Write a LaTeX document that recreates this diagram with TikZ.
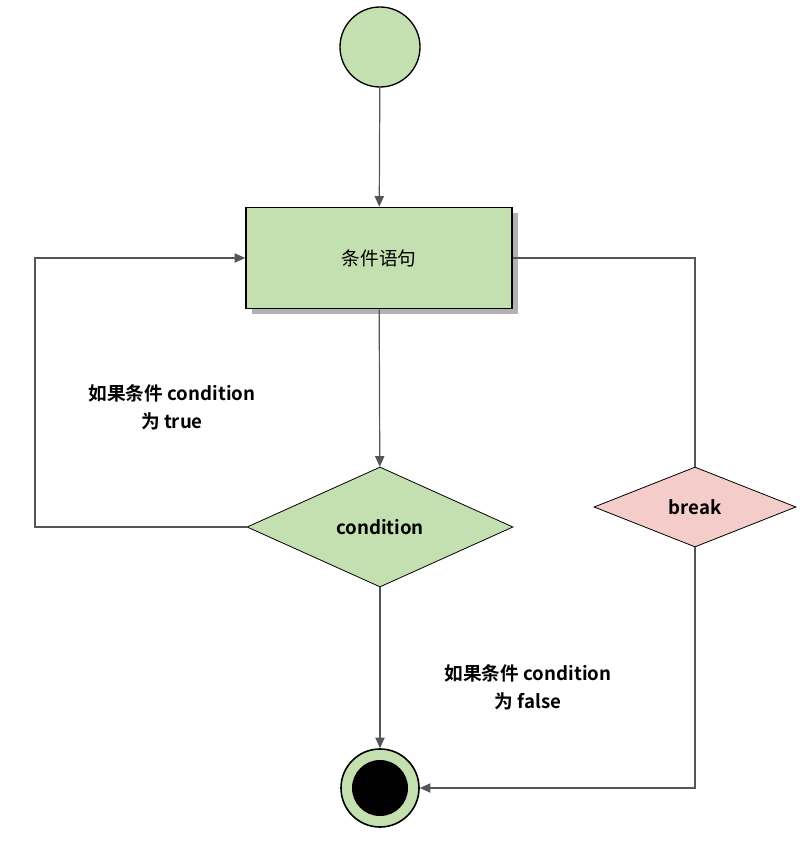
\documentclass[tikz,border=0pt]{standalone}
\usepackage{fontspec}
\setmainfont{Liberation Sans}
\newfontfamily\cjk{Noto Sans CJK SC}[BoldFont={Noto Sans CJK SC Bold}]
\usetikzlibrary{shapes.geometric,arrows.meta}
\definecolor{lg}{HTML}{C5E0B0}
\definecolor{pk}{HTML}{F4CCCA}
\definecolor{ln}{HTML}{555555}
\begin{document}
\begin{tikzpicture}[x=0.75pt,y=-0.75pt,
  lbl/.style={font=\cjk\bfseries\fontsize{14}{21}\selectfont,align=center},
  arr/.style={draw=ln,line width=0.9pt,-{Triangle[length=8pt,width=7pt]}},
  con/.style={draw=ln,line width=0.9pt}]
\useasboundingbox (0,0) rectangle (808,848);
\node[circle,draw=black,line width=1pt,fill=lg,minimum size=80pt*0.75] (start) at (380,47) {};
\fill[gray!60] (252,213) rectangle (518,314);
\node[draw=black,line width=1.2pt,fill=lg,minimum width=266*0.75pt,minimum height=101*0.75pt,lbl,font=\cjk\fontsize{14}{18}\selectfont] (stmt) at (379,258) {条件语句};
\node[diamond,draw=black,line width=0.6pt,fill=lg,minimum width=266*0.75pt,minimum height=120*0.75pt,inner sep=0pt,aspect=2.2,lbl] (cond) at (380,527) {condition};
\node[diamond,draw=black,line width=0.6pt,fill=pk,minimum width=202*0.75pt,minimum height=80*0.75pt,inner sep=0pt,aspect=2.5,lbl] (brk) at (695,507) {break};
\node[circle,draw=black,line width=1.2pt,fill=lg,minimum size=78*0.75pt] (end) at (380,788) {};
\fill[black] (end.center) circle (28);
\coordinate (a1) at (35,527);
\coordinate (a2) at (35,258);
\coordinate (b1) at (695,258);
\coordinate (c1) at (695,788);
\draw[arr] (start) -- (stmt);
\draw[arr] (stmt) -- (cond);
\draw[arr] (cond.west) -- (a1) -- (a2) -- (stmt.west);
\draw[con] (stmt.east) -- (b1) -- (brk.north);
\draw[arr] (brk.south) -- (c1) -- (end.east);
\draw[arr] (cond.south) -- (end.north);
\node[lbl] (t1) at (172,407) {如果条件 condition\\为 true};
\node[lbl] (t2) at (528,687) {如果条件 condition\\为 false};
\end{tikzpicture}
\end{document}
